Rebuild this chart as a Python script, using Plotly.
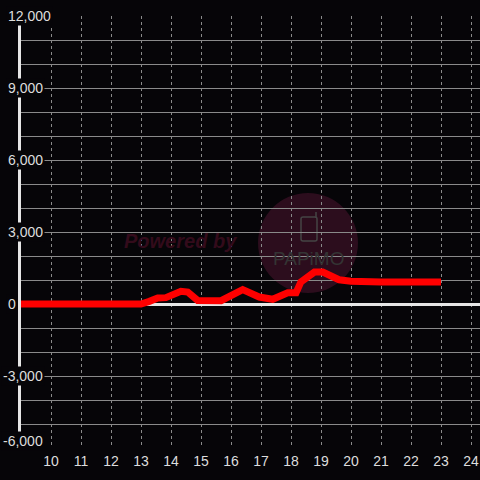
import plotly.graph_objects as go

# ---- data ----
hours = [9, 10, 11, 12, 13.0, 13.28, 13.56, 13.83, 14.33, 14.56, 14.89, 15.67,
         16.39, 16.94, 17.39, 17.89, 18.17, 18.33, 18.78, 19.06, 19.39, 19.6,
         20.0, 20.3, 21, 22, 23.0]
values = [0, 0, 0, 0, 0, 110, 250, 265, 530, 500, 150, 140,
          600, 290, 195, 470, 470, 920, 1330, 1330, 1130, 1010,
          950, 920, 920, 920, 920]

x_ticks = list(range(10, 25))
y_label_vals = [12000, 9000, 6000, 3000, 0, -3000, -6000]
y_labels = ["12,000", "9,000", "6,000", "3,000", "0", "-3,000", "-6,000"]

BG = "#060508"
TXT = "#dddddd"
GRID = "#8a8a8a"
FONT = "Liberation Sans"

# plot-area pixel geometry helpers (for decorations only)
L, R, T, B = 21, 480, 16, 448
def px(x):
    return (x - L) / (R - L)
def py(y):
    return (B - y) / (B - T)

fig = go.Figure()
fig.add_trace(go.Scatter(
    x=hours, y=values, mode="lines",
    line=dict(color="#ff0000", width=7),
    hoverinfo="skip", showlegend=False,
))

ymin = min(y_label_vals)
annotations = []
for v, t in zip(y_label_vals, y_labels):
    annotations.append(dict(
        x=px(1 if v < 0 else 6), xref="paper", y=v, yref="y",
        text=t, showarrow=False, xanchor="left",
        yanchor="bottom" if v == ymin else "middle",
        yshift=-3 if v == ymin else 0,
        font=dict(family=FONT, size=14, color=TXT),
        bgcolor=BG, borderpad=1,
    ))

# watermark texts
annotations.append(dict(
    x=px(180), y=py(241), xref="paper", yref="paper", showarrow=False,
    text="<b><i>Powered by</i></b>",
    font=dict(family=FONT, size=20, color="#330b1b"),
))
annotations.append(dict(
    x=px(308), y=py(258.5), xref="paper", yref="paper", showarrow=False,
    text="PAPiMO",
    font=dict(family=FONT, size=19, color="#343434"),
))

shapes = [
    dict(type="circle", xref="paper", yref="paper",
         x0=px(258), x1=px(358), y0=py(293), y1=py(193),
         fillcolor="#2c0d1d", line=dict(width=0), layer="below"),
    dict(type="path", xref="paper", yref="paper",
         path=("M {a},{b} L {c},{b} Q {d},{b} {d},{e} L {d},{f} Q {d},{g} {c},{g} "
               "L {a},{g} Q {h},{g} {h},{f} L {h},{e} Q {h},{b} {a},{b} Z").format(
             a=px(303), c=px(315), d=px(317), h=px(301),
             b=py(217), e=py(219), f=py(239), g=py(241)),
         line=dict(color="#444444", width=1.5), layer="below"),
    dict(type="line", xref="paper", yref="paper",
         x0=px(316), x1=px(316), y0=py(218), y1=py(212),
         line=dict(color="#444444", width=1.5), layer="below"),
]

fig.update_layout(
    width=480, height=480,
    margin=dict(l=L, r=480 - R, t=T, b=480 - B),
    paper_bgcolor=BG, plot_bgcolor=BG,
    showlegend=False,
    annotations=annotations,
    shapes=shapes,
    xaxis=dict(
        range=[9, 24.3], tickvals=x_ticks, ticktext=[str(t) for t in x_ticks],
        showgrid=True, gridcolor=GRID, gridwidth=1, griddash="3px,3px",
        zeroline=False, showline=False, ticks="",
        ticklabelstandoff=3,
        tickfont=dict(family=FONT, size=14, color=TXT),
        fixedrange=True, automargin=False,
    ),
    yaxis=dict(
        range=[-6000, 12000], dtick=1000, tick0=0,
        showgrid=True, gridcolor=GRID, gridwidth=1,
        zeroline=True, zerolinecolor="#e6e6e6", zerolinewidth=3,
        showline=True, linecolor="#e6e6e6", linewidth=3,
        showticklabels=False, ticks="",
        fixedrange=True, automargin=False,
    ),
)

fig.write_html(
    "out.html",
    config={"displayModeBar": False},
    post_script="document.body.style.margin='0';document.body.style.background='%s';" % BG,
)
